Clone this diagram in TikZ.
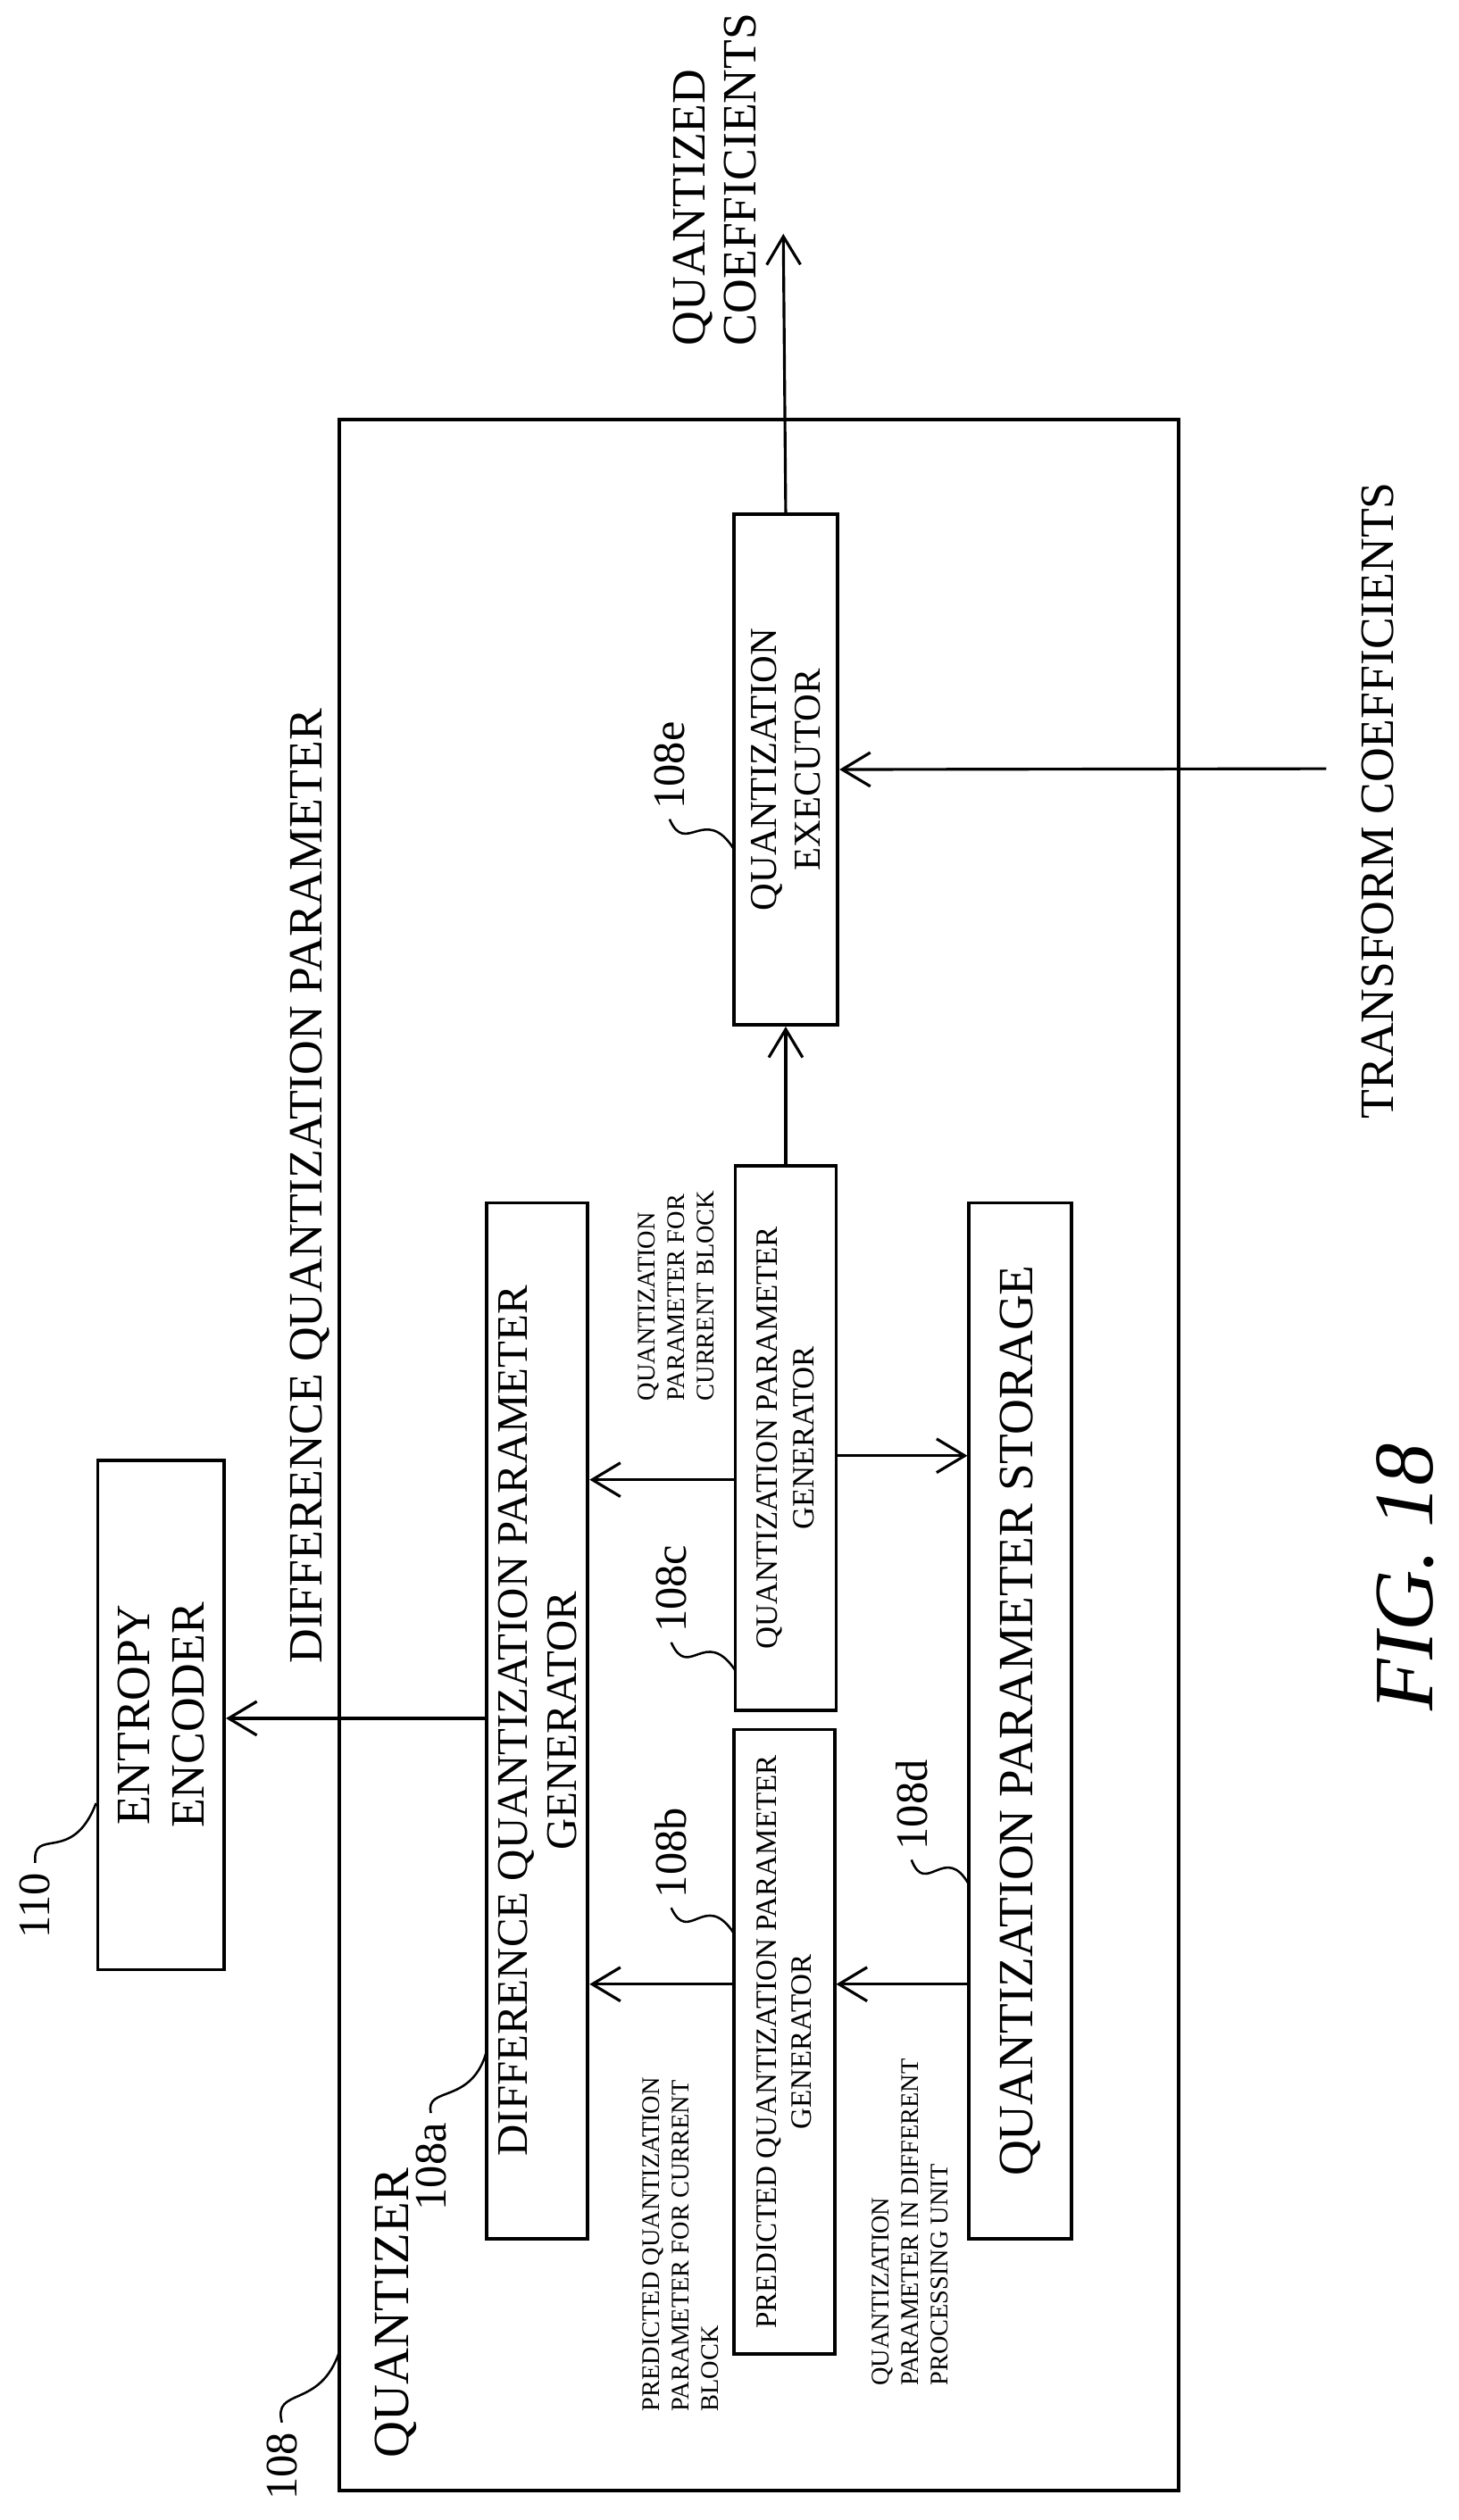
\documentclass[tikz,border=0pt]{standalone}
\usepackage{fontspec}
\setmainfont{Liberation Serif}
\usetikzlibrary{arrows.meta}
\tikzset{
    blk/.style={draw, line width=1.2pt, rotate=90, align=center, inner sep=0pt},
    ref/.style={rotate=90, font=\fontsize{16}{18}\selectfont},
    note/.style={rotate=90, align=left, anchor=north west, font=\fontsize{9}{10.5}\selectfont},
    big/.style={rotate=90, align=left, font=\fontsize{17}{18}\selectfont},
    sig/.style={line width=1pt, -{Straight Barb[length=10pt,width=12pt]}},
    tail/.style={line width=0.8pt},
}
\begin{document}
\begin{tikzpicture}[x=0.02cm, y=-0.02cm]
    \useasboundingbox (0,0) rectangle (910.3,1573.6);

    % Quantizer frame
    \draw[line width=1.2pt] (212,262) rectangle (736,1555);
    \node[big, anchor=north west, font=\fontsize{18}{20}\selectfont] (quantizer) at (228,1541) {QUANTIZER};

    % Blocks
    \node[blk, minimum width=6.36cm, minimum height=1.58cm, font=\fontsize{17}{19.5}\selectfont] (entropy) at (100.5,1071) {ENTROPY\\ENCODER};
    \node[blk, minimum width=12.94cm, minimum height=1.26cm, font=\fontsize{15.5}{17.5}\selectfont] (diffgen) at (335.5,1074.5) {DIFFERENCE QUANTIZATION PARAMETER\\GENERATOR};
    \node[blk, minimum width=7.8cm, minimum height=1.26cm, font=\fontsize{10.5}{12.5}\selectfont] (predgen) at (489.5,1275) {PREDICTED QUANTIZATION PARAMETER\\GENERATOR};
    \node[blk, minimum width=6.8cm, minimum height=1.26cm, font=\fontsize{11}{13}\selectfont] (qpgen) at (490.5,898) {QUANTIZATION PARAMETER\\GENERATOR};
    \node[blk, minimum width=12.94cm, minimum height=1.28cm, font=\fontsize{17.5}{19}\selectfont] (storage) at (637,1074.5) {QUANTIZATION PARAMETER STORAGE};
    \node[blk, minimum width=6.38cm, minimum height=1.3cm, font=\fontsize{13.5}{15.5}\selectfont] (exec) at (490.5,480.5) {QUANTIZATION\\EXECUTOR};

    % Reference numerals
    \node[ref] (l110) at (22,1190) {110};
    \draw[tail] (l110.east) .. controls (20,1140) and (45,1165) .. (entropy.north west |- {(0,1126)});
    \node[ref] (l108) at (176,1540) {108};
    \coordinate (c108) at (212,1468);
    \draw[tail] (l108.east) .. controls (170,1490) and (200,1505) .. (c108);
    \node[ref] (l108a) at (269,1353) {108a};
    \coordinate (c108a) at (304,1280);
    \draw[tail] (l108a.east) .. controls (265,1302) and (295,1315) .. (c108a);
    \node[ref] (l108b) at (419,1157) {108b};
    \coordinate (c108b) at (458,1207);
    \draw[tail] (l108b.west) .. controls (430,1215) and (440,1180) .. (c108b);
    \node[ref] (l108c) at (419,992) {108c};
    \coordinate (c108c) at (459,1043);
    \draw[tail] (l108c.west) .. controls (430,1050) and (440,1015) .. (c108c);
    \node[ref] (l108d) at (569,1127) {108d};
    \coordinate (c108d) at (605,1177);
    \draw[tail] (l108d.west) .. controls (578,1185) and (590,1150) .. (c108d);
    \node[ref] (l108e) at (418,478) {108e};
    \coordinate (c108e) at (458,530);
    \draw[tail] (l108e.west) .. controls (428,535) and (440,502) .. (c108e);

    % Signals
    \coordinate (qout) at (489,146);
    \coordinate (tin) at (828,480);
    \draw[sig] (exec.east) -- (qout);
    \draw[sig] (tin) -- (exec.south);
    \draw[sig] (qpgen.east) -- (exec.west);
    \draw[sig] (qpgen.north |- {(0,924)}) -- (diffgen.south |- {(0,924)});
    \draw[sig] (qpgen.south |- {(0,909)}) -- (storage.north |- {(0,909)});
    \draw[sig] (storage.north |- {(0,1239)}) -- (predgen.south |- {(0,1239)});
    \draw[sig] (predgen.north |- {(0,1239)}) -- (diffgen.south |- {(0,1239)});
    \draw[sig] (diffgen.north |- {(0,1073)}) -- (entropy.south |- {(0,1073)});

    % Signal labels
    \node[big, anchor=north west] (qcoef) at (414,222) {QUANTIZED\\COEFFICIENTS};
    \node[big, anchor=north east] (tcoef) at (844,295) {TRANSFORM COEFFICIENTS};
    \node[big, anchor=north west] (dqp) at (175,1045) {DIFFERENCE QUANTIZATION PARAMETER};
    \node[note] (nqp) at (392,881) {QUANTIZATION\\PARAMETER FOR\\CURRENT BLOCK};
    \node[note] (npred) at (395,1512) {PREDICTED QUANTIZATION\\PARAMETER FOR CURRENT\\BLOCK};
    \node[note] (ndiff) at (538,1496) {QUANTIZATION\\PARAMETER IN DIFFERENT\\PROCESSING UNIT};

    \node[rotate=90, font=\itshape\fontsize{30}{32}\selectfont] (fig) at (877,985) {FIG. 18};
\end{tikzpicture}
\end{document}
